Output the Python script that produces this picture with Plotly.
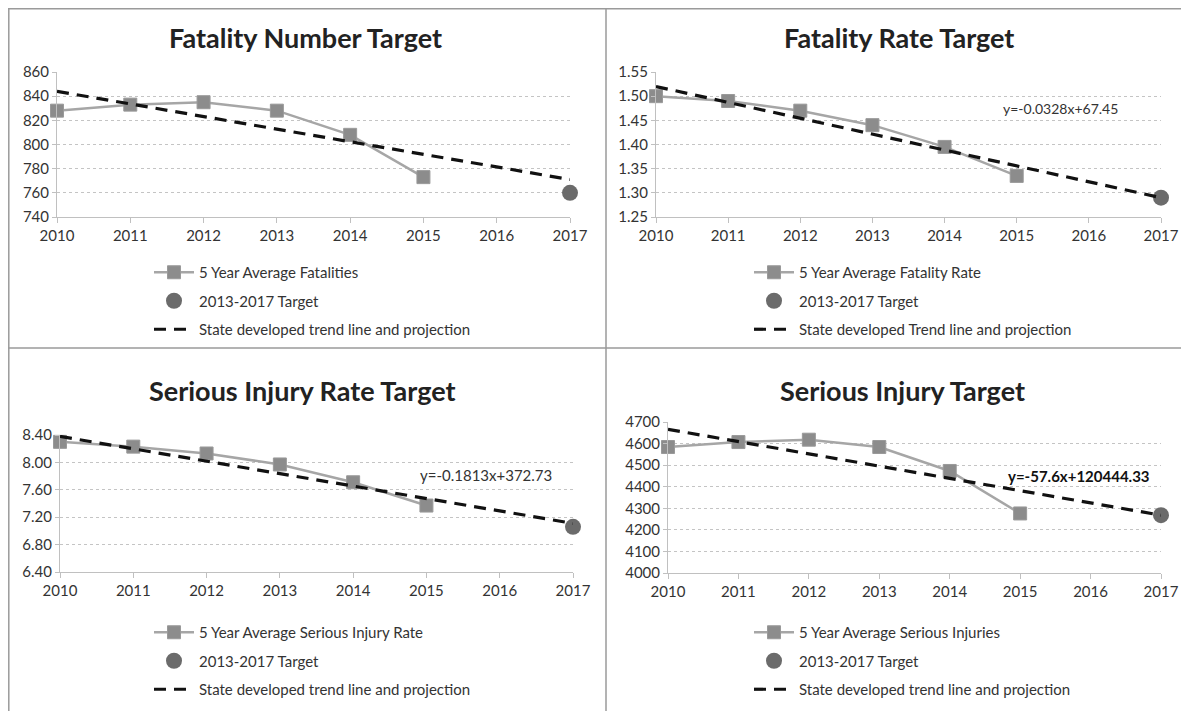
import plotly.graph_objects as go

# ---------------- data ----------------
years = [2010, 2011, 2012, 2013, 2014, 2015]
target_year = [2017]
trend_years = [2010, 2017]
x_ticks = [2010, 2011, 2012, 2013, 2014, 2015, 2016, 2017]

fat_avg = [828, 833, 835, 828, 808, 773]
fat_target = [760]
fat_trend = [844, 771]

rate_avg = [1.50, 1.49, 1.47, 1.44, 1.395, 1.335]
rate_target = [1.29]
rate_trend = [1.52, 1.29]

sir_avg = [8.30, 8.23, 8.13, 7.97, 7.71, 7.37]
sir_target = [7.06]
sir_trend = [8.38, 7.11]

si_avg = [4584, 4607, 4618, 4584, 4473, 4276]
si_target = [4268]
si_trend = [4666, 4268]

titles = ["Fatality Number Target", "Fatality Rate Target",
          "Serious Injury Rate Target", "Serious Injury Target"]
avg_names = ["5 Year Average Fatalities", "5 Year Average Fatality Rate",
             "5 Year Average Serious Injury Rate", "5 Year Average Serious Injuries"]
target_name = "2013-2017 Target"
trend_names = ["State developed trend line and projection",
               "State developed Trend line and projection",
               "State developed trend line and projection",
               "State developed trend line and projection"]
equations = [None, "y=-0.0328x+67.45", "y=-0.1813x+372.73", "<b>y=-57.6x+120444.33</b>"]

# ---------------- layout helpers ----------------
W, H = 1181, 703   # page body has an 8px margin
FONT = "Lato"

def px_x(p):
    return p / W

def px_y(p):
    return 1 - p / H

panels = [
    dict(avg=fat_avg, tgt=fat_target, trd=fat_trend, yr=[740, 860], dt=20, fmt="d",
         xd=(49, 562), yd=(64, 209), title=(297, 29), leg=(141, 248), eq=None, eqf=14),
    dict(avg=rate_avg, tgt=rate_target, trd=rate_trend, yr=[1.25, 1.55], dt=0.05, fmt=".2f",
         xd=(648, 1153), yd=(64, 209), title=(891, 29), leg=(741, 248), eq=(1052, 1.474), eqf=14),
    dict(avg=sir_avg, tgt=sir_target, trd=sir_trend, yr=[6.40, 8.40], dt=0.40, fmt=".2f",
         xd=(52, 565), yd=(427, 564), title=(294, 382), leg=(141, 608), eq=(478, 7.82), eqf=15),
    dict(avg=si_avg, tgt=si_target, trd=si_trend, yr=[4000, 4700], dt=100, fmt="d",
         xd=(660, 1153), yd=(414, 565), title=(894, 382), leg=(741, 608), eq=(1071, 4452), eqf=15),
]

fig = go.Figure()
annotations = []
layout_axes = {}

for i, p in enumerate(panels):
    n = i + 1
    xa = "x" if n == 1 else f"x{n}"
    ya = "y" if n == 1 else f"y{n}"
    lg = "legend" if n == 1 else f"legend{n}"

    fig.add_trace(go.Scatter(
        x=years, y=p["avg"], xaxis=xa, yaxis=ya, mode="lines+markers",
        name=avg_names[i], legend=lg, legendgroup=f"a{n}",
        line=dict(color="#a6a6a6", width=2.5),
        marker=dict(symbol="square", size=13, color="#8c8c8c",
                    line=dict(color="#9a9a9a", width=1)),
        cliponaxis=False))
    fig.add_trace(go.Scatter(
        x=target_year, y=p["tgt"], xaxis=xa, yaxis=ya, mode="markers",
        name=target_name, legend=lg, legendgroup=f"b{n}",
        marker=dict(symbol="circle", size=16, color="#6b6b6b"),
        cliponaxis=False))
    fig.add_trace(go.Scatter(
        x=trend_years, y=p["trd"], xaxis=xa, yaxis=ya, mode="lines",
        name=trend_names[i], legend=lg, legendgroup=f"c{n}",
        line=dict(color="#111111", width=3.2, dash="12px,8px"),
        cliponaxis=False))

    xkey = "xaxis" if n == 1 else f"xaxis{n}"
    ykey = "yaxis" if n == 1 else f"yaxis{n}"
    layout_axes[xkey] = dict(
        domain=[px_x(p["xd"][0]), px_x(p["xd"][1])], anchor=ya,
        range=[2010, 2017], tickvals=x_ticks, ticktext=[str(v) for v in x_ticks],
        showgrid=False,
        showline=True, linecolor="#c0c0c0", linewidth=1,
        ticks="outside", ticklen=5, tickcolor="#c0c0c0",
        tickfont=dict(family=FONT, size=15, color="#333333"),
        zeroline=False, fixedrange=True, automargin=False)
    ticks_y = []
    v = p["yr"][0]
    while v <= p["yr"][1] + 1e-9:
        ticks_y.append(round(v, 4))
        v += p["dt"]
    layout_axes[ykey] = dict(
        domain=[px_y(p["yd"][1]), px_y(p["yd"][0])], anchor=xa,
        range=p["yr"], tickvals=ticks_y, tickformat=p["fmt"],
        showgrid=True, gridcolor="#c4c4c4", griddash="dot", gridwidth=1,
        showline=True, linecolor="#c0c0c0", linewidth=1,
        ticks="outside", ticklen=4, tickcolor="#c0c0c0",
        tickfont=dict(family=FONT, size=15, color="#333333"),
        zeroline=False, fixedrange=True, automargin=False)

    layout_axes[lg] = dict(
        x=px_x(p["leg"][0]), y=px_y(p["leg"][1]), xanchor="left", yanchor="top",
        bgcolor="rgba(0,0,0,0)", font=dict(family=FONT, size=15, color="#333333"),
        tracegroupgap=6, itemwidth=40, traceorder="grouped")

    annotations.append(dict(
        text=f"<b>{titles[i]}</b>", x=px_x(p["title"][0]), y=px_y(p["title"][1]),
        xref="paper", yref="paper", showarrow=False, xanchor="center", yanchor="middle",
        font=dict(family=FONT, size=27, color="#222222")))
    if p["eq"] is not None:
        annotations.append(dict(
            text=equations[i], x=px_x(p["eq"][0]), y=p["eq"][1],
            xref="paper", yref=ya, showarrow=False, xanchor="center", yanchor="middle",
            font=dict(family=FONT, size=p["eqf"],
                      color="#333333" if n != 4 else "#111111")))

border = dict(color="#9a9a9a", width=1.5)
shapes = [
    dict(type="line", xref="paper", yref="paper", x0=px_x(0.8), x1=px_x(0.8),
         y0=px_y(H), y1=px_y(0), line=border),
    dict(type="line", xref="paper", yref="paper", x0=px_x(0), x1=px_x(W),
         y0=px_y(0.8), y1=px_y(0.8), line=border),
    dict(type="line", xref="paper", yref="paper", x0=px_x(598), x1=px_x(598),
         y0=px_y(H), y1=px_y(0), line=border),
    dict(type="line", xref="paper", yref="paper", x0=px_x(0), x1=px_x(W),
         y0=px_y(340), y1=px_y(340), line=border),
]

fig.update_layout(
    width=W, height=H, margin=dict(l=0, r=0, t=0, b=0, pad=0, autoexpand=False),
    paper_bgcolor="white", plot_bgcolor="white",
    showlegend=True, annotations=annotations, shapes=shapes,
    font=dict(family=FONT),
    **layout_axes)

fig.write_html("out.html")
